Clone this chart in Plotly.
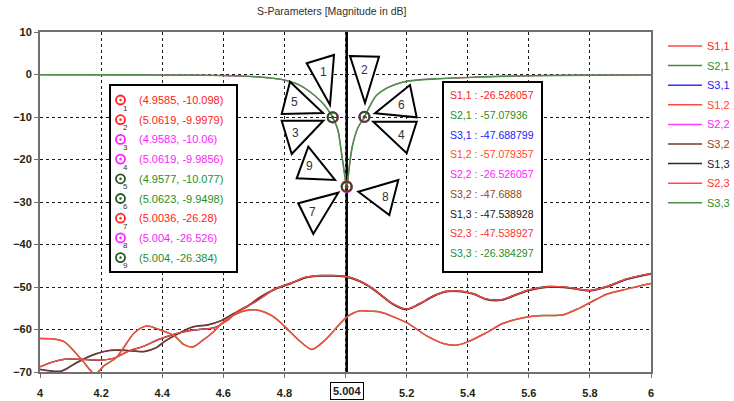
import plotly.graph_objects as go

# ---------------- data ----------------
freq_notch = [4.0, 4.3, 4.5, 4.6, 4.7, 4.75, 4.8, 4.85, 4.9, 4.93, 4.958, 4.975, 4.985, 4.995,
              5.004, 5.012, 5.022, 5.04, 5.062, 5.08, 5.1, 5.13, 5.16, 5.2, 5.25, 5.3, 5.4,
              5.5, 5.6, 5.8, 6.0]
s11 = [-0.06, -0.09, -0.16, -0.27, -0.52, -0.82, -1.32, -2.55, -5.05, -7.15, -10.1, -13.1, -17.4,
       -22.3, -26.28, -21.9, -17.0, -12.65, -10.0, -7.45, -5.05, -3.45, -2.45, -1.62, -1.22,
       -1.02, -0.72, -0.46, -0.31, -0.16, -0.1]
s22 = [-0.06, -0.09, -0.16, -0.26, -0.51, -0.81, -1.31, -2.52, -5.02, -7.12, -10.06, -13.1, -17.6,
       -22.6, -26.53, -22.1, -17.1, -12.62, -9.99, -7.42, -5.02, -3.42, -2.42, -1.61, -1.21,
       -1.01, -0.71, -0.45, -0.3, -0.15, -0.1]
s33 = [-0.05, -0.08, -0.15, -0.25, -0.5, -0.8, -1.3, -2.5, -5.0, -7.1, -10.08, -13.0, -17.5,
       -22.5, -26.38, -22.0, -17.0, -12.6, -9.95, -7.4, -5.0, -3.4, -2.4, -1.6, -1.2, -1.0,
       -0.7, -0.45, -0.3, -0.15, -0.1]

freq_a = [4.0, 4.04, 4.08, 4.14, 4.18, 4.21, 4.25, 4.31, 4.35, 4.39, 4.44, 4.47, 4.50, 4.53, 4.57,
          4.61, 4.67, 4.71, 4.76, 4.80, 4.85, 4.89, 4.93, 4.97, 5.004, 5.047, 5.08, 5.113, 5.2,
          5.266, 5.32, 5.358, 5.4, 5.46, 5.515, 5.59, 5.657, 5.71, 5.756, 5.8, 5.855, 5.92, 6.0]
s21 = [-62.1, -62.2, -62.9, -67.4, -70.5, -68.5, -66.6, -60.7, -59.2, -60.0, -61.5, -63.5, -64.1,
       -62.7, -60.4, -57.6, -55.6, -55.4, -56.8, -59.2, -62.7, -64.7, -62.7, -59.6, -57.08, -55.6,
       -55.7, -55.9, -58.4, -61.5, -63.3, -63.7, -62.9, -60.8, -58.6, -57.1, -56.7, -56.6, -55.3,
       -53.7, -51.7, -50.5, -49.2]
s12 = list(s21)

freq_b = [4.0, 4.07, 4.12, 4.18, 4.23, 4.28, 4.34, 4.38, 4.41, 4.46, 4.50, 4.55, 4.59, 4.63, 4.68,
          4.72, 4.77, 4.82, 4.87, 4.92, 4.96, 5.004, 5.047, 5.09, 5.156, 5.2, 5.24, 5.29, 5.33,
          5.38, 5.42, 5.46, 5.51, 5.55, 5.6, 5.66, 5.73, 5.8, 5.855, 5.92, 6.0]
s31 = [-69.4, -69.8, -67.8, -65.8, -64.9, -64.9, -65.2, -64.3, -62.7, -60.7, -59.4, -58.9, -58.0,
       -56.4, -54.5, -52.4, -50.5, -49.2, -47.8, -47.4, -47.4, -47.69, -48.7, -50.5, -54.1, -55.3,
       -54.1, -52.1, -51.1, -51.1, -51.7, -52.9, -53.1, -52.1, -50.8, -50.0, -50.2, -50.9, -50.0,
       -48.2, -46.9]
s32 = list(s31)

freq_c = [4.0, 4.035, 4.08, 4.13, 4.2, 4.24, 4.29, 4.34, 4.39, 4.44, 4.48, 4.52, 4.57, 4.61, 4.65,
          4.7, 4.74, 4.77, 4.82, 4.87, 4.92, 4.96, 5.004, 5.047, 5.09, 5.156, 5.2, 5.24, 5.29,
          5.33, 5.38, 5.42, 5.46, 5.51, 5.55, 5.6, 5.66, 5.73, 5.8, 5.855, 5.92, 6.0]
s13 = [-68.8, -67.8, -67.0, -67.0, -67.2, -66.8, -65.1, -63.9, -62.3, -61.1, -60.4, -60.0, -59.6,
       -58.0, -55.6, -53.7, -51.8, -50.4, -49.1, -47.7, -47.3, -47.3, -47.54, -48.6, -50.4, -54.0,
       -55.2, -54.0, -52.0, -51.0, -51.0, -51.6, -52.8, -53.0, -52.0, -50.7, -49.9, -50.1, -50.8,
       -49.9, -48.1, -46.8]
s23 = list(s13)

marker_x = [4.9585, 5.0619, 4.9583, 5.0619, 4.9577, 5.0623, 5.0036, 5.004, 5.004]
marker_y = [-10.098, -9.9979, -10.06, -9.9856, -10.077, -9.9498, -26.28, -26.526, -26.384]
marker_param = ["S1,1", "S1,1", "S2,2", "S2,2", "S3,3", "S3,3", "S1,1", "S2,2", "S3,3"]

param_names = ["S1,1", "S2,1", "S3,1", "S1,2", "S2,2", "S3,2", "S1,3", "S2,3", "S3,3"]
values_at_cursor = [-26.526057, -57.07936, -47.688799, -57.079357, -26.526057, -47.6888,
                    -47.538928, -47.538927, -26.384297]
cursor_freq = 5.004

x_ticks = [4, 4.2, 4.4, 4.6, 4.8, 5.0, 5.2, 5.4, 5.6, 5.8, 6]
x_tick_text = ["4", "4.2", "4.4", "4.6", "4.8", "", "5.2", "5.4", "5.6", "5.8", "6"]
y_ticks = [10, 0, -10, -20, -30, -40, -50, -60, -70]

# ---------------- styles ----------------
line_col = {"S1,1": "#ff4a4a", "S2,1": "#3d8a3d", "S3,1": "#3030ff", "S1,2": "#ff4840",
            "S2,2": "#ff3cff", "S3,2": "#6e3a30", "S1,3": "#2a2a2a", "S2,3": "#ff4848",
            "S3,3": "#4b8f4b"}
line_w = {"S1,1": 1.0, "S2,1": 1.5, "S3,1": 1.0, "S1,2": 1.5, "S2,2": 1.0, "S3,2": 1.8,
          "S1,3": 1.5, "S2,3": 1.3, "S3,3": 1.6}
text_col = {"S1,1": "#ff2020", "S2,1": "#1f8f1f", "S3,1": "#2020ff", "S1,2": "#ff4a1a",
            "S2,2": "#ff20ff", "S3,2": "#8b4a2a", "S1,3": "#1a1a1a", "S2,3": "#ff3030",
            "S3,3": "#1f8f1f"}
marker_col = {"S1,1": "#ff2020", "S2,2": "#ff20ff", "S3,3": "#1e5a1e"}

series = {"S1,1": (freq_notch, s11), "S2,1": (freq_a, s21), "S3,1": (freq_b, s31),
          "S1,2": (freq_a, s12), "S2,2": (freq_notch, s22), "S3,2": (freq_b, s32),
          "S1,3": (freq_c, s13), "S2,3": (freq_c, s23), "S3,3": (freq_notch, s33)}
draw_order = ["S3,1", "S3,2", "S1,3", "S2,3", "S2,1", "S1,2", "S1,1", "S2,2", "S3,3"]

FONT = "Liberation Sans"
L, R, T, B = 40, 651, 32, 372


def X(p):
    return (p - L) / (R - L)


def Y(p):
    return 1 - (p - T) / (B - T)


fig = go.Figure()
for name in draw_order:
    fx, fy = series[name]
    fig.add_trace(go.Scatter(x=fx, y=fy, mode="lines", name=name, showlegend=False,
                             line=dict(color=line_col[name], width=line_w[name], shape="spline",
                                       smoothing=0.8)))

for pname in ["S1,1", "S2,2", "S3,3"]:
    idx = [i for i, p in enumerate(marker_param) if p == pname]
    fig.add_trace(go.Scatter(x=[marker_x[i] for i in idx], y=[marker_y[i] for i in idx],
                             mode="markers", showlegend=False,
                             marker=dict(symbol="circle-open-dot", size=10,
                                         color=marker_col[pname], line=dict(width=2))))

shapes = []
annotations = []

# cursor line
shapes.append(dict(type="line", xref="x", yref="paper", x0=cursor_freq, x1=cursor_freq,
                   y0=0, y1=1, line=dict(color="black", width=2.5), layer="between"))

# callout triangles
triangles = [
    ("1", [(306.7, 63.3), (334, 55), (330, 105)], (323, 72)),
    ("2", [(350, 56), (379, 56.7), (365, 103)], (364, 70)),
    ("5", [(290, 81.7), (323, 113), (281.7, 114)], (294, 102)),
    ("3", [(281.7, 120.7), (323.3, 120.7), (291.7, 154)], (295, 133)),
    ("6", [(410, 85), (416.7, 117.3), (375, 113.3)], (401.7, 105)),
    ("4", [(373.3, 121.7), (416.7, 121.7), (406.7, 153.3)], (401, 135)),
    ("9", [(308.3, 146.7), (335, 180), (296.7, 178.3)], (309.3, 166)),
    ("7", [(298.3, 203.3), (338.3, 192.7), (313.3, 234)], (312.7, 212)),
    ("8", [(358.3, 191.7), (398.3, 180), (389.3, 215)], (385, 197)),
]
for lab, pts, lp in triangles:
    path = "M " + " L ".join(f"{X(a):.5f},{Y(b):.5f}" for a, b in pts) + " Z"
    shapes.append(dict(type="path", xref="paper", yref="paper", path=path,
                       fillcolor="white", line=dict(color="black", width=2), layer="above"))
    annotations.append(dict(xref="paper", yref="paper", x=X(lp[0]), y=Y(lp[1]), text=lab,
                            yanchor="middle", showarrow=False,
                            font=dict(family=FONT, size=12, color="#333333")))

# marker table box
shapes.append(dict(type="rect", xref="paper", yref="paper", x0=X(110), x1=X(237), y0=Y(85),
                   y1=Y(272), fillcolor="white", line=dict(color="black", width=2),
                   layer="above"))
for i in range(len(marker_x)):
    yy = 100 + 19.7 * i
    c = marker_col[marker_param[i]]
    shapes.append(dict(type="circle", xref="paper", yref="paper", x0=X(116), x1=X(125),
                       y0=Y(yy + 4.5), y1=Y(yy - 4.5), line=dict(color=c, width=1.8),
                       fillcolor="white", layer="above"))
    shapes.append(dict(type="circle", xref="paper", yref="paper", x0=X(119.5), x1=X(121.5),
                       y0=Y(yy + 1), y1=Y(yy - 1), line=dict(color=c, width=0.5),
                       fillcolor=c, layer="above"))
    annotations.append(dict(xref="paper", yref="paper", x=X(120.5), y=Y(yy + 8), text=str(i + 1),
                            yanchor="middle", showarrow=False,
                            font=dict(family=FONT, size=8, color="#333333")))
    annotations.append(dict(xref="paper", yref="paper", x=X(137), y=Y(yy), xanchor="left",
                            yanchor="middle",
                            text=f"({marker_x[i]}, {marker_y[i]})", showarrow=False,
                            font=dict(family=FONT, size=11, color=text_col[marker_param[i]])))

# value box
shapes.append(dict(type="rect", xref="paper", yref="paper", x0=X(443), x1=X(542), y0=Y(82),
                   y1=Y(272), fillcolor="white", line=dict(color="black", width=2),
                   layer="above"))
for i, (n, v) in enumerate(zip(param_names, values_at_cursor)):
    yy = 95 + 19.75 * i
    annotations.append(dict(xref="paper", yref="paper", x=X(448), y=Y(yy), xanchor="left",
                            yanchor="middle", text=f"{n} : {v}", showarrow=False,
                            font=dict(family=FONT, size=10.5, color=text_col[n])))

# right legend
for i, n in enumerate(param_names):
    yy = 46 + 19.6 * i
    shapes.append(dict(type="line", xref="paper", yref="paper", x0=X(668), x1=X(702),
                       y0=Y(yy), y1=Y(yy), line=dict(color=line_col[n], width=1.5)))
    annotations.append(dict(xref="paper", yref="paper", x=X(705), y=Y(yy), xanchor="left",
                            yanchor="middle", text=n, showarrow=False,
                            font=dict(family=FONT, size=11, color=text_col[n])))

# title
annotations.append(dict(xref="paper", yref="paper", x=X(331), y=Y(11), yanchor="middle",
                        text="S-Parameters [Magnitude in dB]", showarrow=False,
                        font=dict(family=FONT, size=10.5, color="#303030")))
# cursor tick label
annotations.append(dict(xref="x", yref="paper", x=cursor_freq, y=Y(391), yanchor="middle",
                        text=f"{cursor_freq}", showarrow=False, bordercolor="black",
                        borderwidth=1, borderpad=2, bgcolor="white",
                        font=dict(family=FONT, size=11, color="#222222", weight="bold")))

axis_common = dict(showline=True, linecolor="#707070", linewidth=2, mirror=True,
                   ticks="outside", ticklen=4, tickcolor="#707070", automargin=False,
                   showgrid=True, gridcolor="#1a1a1a", gridwidth=1.3, griddash="3px,3px",
                   zeroline=False,
                   tickfont=dict(family=FONT, size=11, color="#24240f", weight="bold"))

fig.update_layout(
    width=734, height=401,
    margin=dict(l=L, r=734 - R, t=T, b=401 - B),
    paper_bgcolor="white", plot_bgcolor="white",
    xaxis=dict(range=[4, 6], tickvals=x_ticks, ticktext=x_tick_text, ticklabelstandoff=6,
               **axis_common),
    yaxis=dict(range=[-70, 10], tickvals=y_ticks, **axis_common),
    shapes=shapes, annotations=annotations, showlegend=False,
)

fig.write_html("out.html")
